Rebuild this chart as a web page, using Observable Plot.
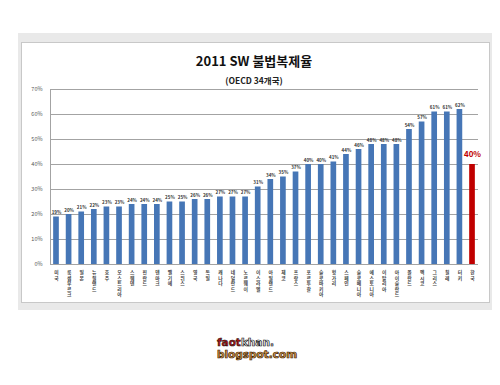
<!DOCTYPE html>
<html>
<head>
<meta charset="utf-8">
<script src="https://cdn.jsdelivr.net/npm/d3@7"></script>
<script src="https://cdn.jsdelivr.net/npm/@observablehq/plot@0.6"></script>
<style>
  html, body { margin: 0; padding: 0; background: #fff; }
  #wrap { position: relative; width: 500px; height: 385px; overflow: hidden; font-family: "Noto Sans CJK KR", "Noto Sans", sans-serif; }
  .outer { position: absolute; left: 18px; top: 33px; width: 474px; height: 277px; background: #e9e9e9; }
  .inner { position: absolute; left: 21px; top: 42px; width: 467px; height: 259px; background: #fff; border: 1px solid #c8c8c8; }
  .title { position: absolute; left: 0; width: 508px; text-align: center; top: 53px; font-size: 13px; line-height: 15px; font-weight: bold; color: #111; }
  .sub { position: absolute; left: 0; width: 508px; text-align: center; top: 75px; font-size: 8.5px; line-height: 10px; font-weight: bold; color: #222; }
  #chart { position: absolute; left: 0; top: 0; }
  .wm1, .wm2 { position: absolute; left: 217px; font-family: "DejaVu Sans", sans-serif; font-weight: bold; white-space: nowrap; }
  .wm1 { top: 336px; font-size: 10.5px; line-height: 12px; }
  .wm2 { top: 348px; font-size: 10.5px; line-height: 12px; color: #e0a050; -webkit-text-stroke: 0.7px #3a1a00; }
  .a { color: #b01010; -webkit-text-stroke: 0.5px #111; }
  .b { color: #fff; -webkit-text-stroke: 0.7px #111; }
</style>
</head>
<body>
<div id="wrap">
  <div class="outer"></div>
  <div class="inner"></div>
  <div id="chart"></div>
  <div class="title">2011 SW 불법복제율</div>
  <div class="sub">(OECD 34개국)</div>
  <div class="wm1"><span class="a">faot</span><span class="b">khan.</span></div>
  <div class="wm2">blogspot.com</div>
</div>
<script>
const countries = ["미국","룩셈부르크","일본","뉴질랜드","호주","오스트리아","스웨덴","핀란드","덴마크","벨기에","스위스","영국","독일","캐나다","네덜란드","노르웨이","이스라엘","아일랜드","체코","프랑스","포르투갈","슬로바키아","헝가리","스페인","슬로베니아","에스토니아","이탈리아","아이슬란드","폴란드","멕시코","그리스","칠레","터키","한국"];
const rates = [19,20,21,22,23,23,24,24,24,25,25,26,26,27,27,27,31,34,35,37,40,40,41,44,46,48,48,48,54,57,61,61,62,40];
const highlight = "한국";
const yTicks = [0,10,20,30,40,50,60,70];

const data = countries.map((c, i) => ({country: c, rate: rates[i]}));
const others = data.filter(d => d.country !== highlight);
const hi = data.filter(d => d.country === highlight);

const chart = Plot.plot({
  width: 500,
  height: 385,
  marginLeft: 50,
  marginRight: 22,
  marginTop: 89,
  marginBottom: 121,
  style: {background: "transparent", fontFamily: "'Noto Sans CJK KR', sans-serif"},
  x: {domain: countries, paddingInner: 0.55, paddingOuter: 0.25, round: false, axis: null},
  y: {domain: [0, 70], axis: null},
  marks: [
    Plot.ruleY(yTicks, {stroke: "#a3a3a3", strokeWidth: 1}),
    Plot.frame({anchor: "left", stroke: "#a3a3a3"}),
    Plot.text(yTicks, {y: d => d, frameAnchor: "left", dx: -8, textAnchor: "end", text: d => d + "%", fontSize: 5.5, fill: "#555"}),
    Plot.barY(others, {x: "country", y: "rate", fill: "#4676b6"}),
    Plot.barY(hi, {x: "country", y: "rate", fill: "#c00000"}),
    Plot.text(others, {x: "country", y: "rate", text: d => d.rate + "%", dy: -4, fontSize: 4.5, fontWeight: "bold", fill: "#333"}),
    Plot.text(hi, {x: "country", y: "rate", text: d => d.rate + "%", dy: -10, fontSize: 8, fontWeight: "bold", fill: "#c00000"}),
    Plot.text(countries, {x: d => d, frameAnchor: "bottom", dy: 6, lineAnchor: "top", text: d => [...d].join("\n"), fontSize: 4.8, lineHeight: 1.15, fill: "#444", fontWeight: "bold"})
  ]
});
document.getElementById("chart").appendChild(chart);
</script>
</body>
</html>
